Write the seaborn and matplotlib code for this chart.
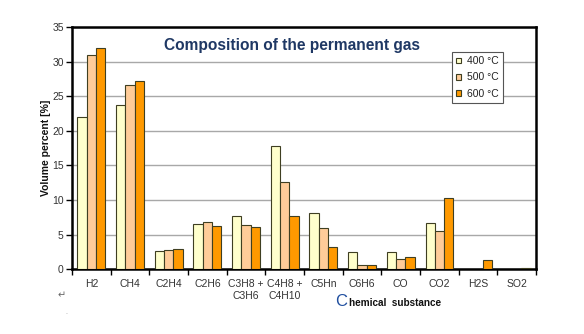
import matplotlib
matplotlib.use("Agg")
import matplotlib.pyplot as plt
import seaborn as sns
import pandas as pd

substances = ["H2", "CH4", "C2H4", "C2H6", "C3H8 +\nC3H6", "C4H8 +\nC4H10",
              "C5Hn", "C6H6", "CO", "CO2", "H2S", "SO2"]
temperatures = ["400 °C", "500 °C", "600 °C"]
vol_400 = [22.0, 23.8, 2.6, 6.5, 7.7, 17.8, 8.1, 2.45, 2.45, 6.7, 0.0, 0.0]
vol_500 = [30.9, 26.7, 2.8, 6.9, 6.4, 12.6, 5.9, 0.6, 1.5, 5.5, 0.0, 0.0]
vol_600 = [32.0, 27.2, 2.9, 6.3, 6.1, 7.75, 3.2, 0.67, 1.8, 10.25, 1.4, 0.2]
bar_colors = ["#FFFFCC", "#FFCC99", "#FF9900"]

rows = []
for temp, vals in zip(temperatures, [vol_400, vol_500, vol_600]):
    for sub, v in zip(substances, vals):
        rows.append({"substance": sub, "temperature": temp, "volume": v})
df = pd.DataFrame(rows)

sns.set_theme(style="white")
plt.rcParams["font.family"] = ["Liberation Sans", "DejaVu Sans"]

fig = plt.figure(figsize=(5.84, 3.34), dpi=100)
ax = fig.add_axes([0.1233, 0.1937, 0.7947, 0.7253])

sns.barplot(data=df, x="substance", y="volume", hue="temperature",
            hue_order=temperatures, order=substances, palette=bar_colors,
            saturation=1, width=0.72, gap=0, edgecolor="#3f3f22",
            linewidth=0.8, errorbar=None, ax=ax, zorder=3)

ax.set_ylim(0, 35)
ax.set_xlim(-0.5, len(substances) - 0.5)
ax.set_yticks(range(0, 36, 5))
ax.yaxis.grid(True, color="#a8a8a8", linewidth=1.0, zorder=0)
ax.set_axisbelow(True)

for side in ["top", "right", "left", "bottom"]:
    ax.spines[side].set_visible(True)
    ax.spines[side].set_color("black")
    ax.spines[side].set_linewidth(1.8)

ax.tick_params(axis="y", which="major", direction="out", length=4, width=1,
               color="black", labelsize=7.5, labelcolor="#333333", pad=2, left=True)
# category labels centred, separator ticks between groups
ax.set_xticks(range(len(substances)))
ax.set_xticklabels(substances, fontsize=7.5, color="#333333", linespacing=1.25)
ax.tick_params(axis="x", which="major", length=0, pad=7)
ax.set_xticks([i - 0.5 for i in range(len(substances) + 1)], minor=True)
ax.tick_params(axis="x", which="minor", direction="out", length=4, width=1,
               color="black", bottom=True)

ax.set_xlabel("")
ax.set_ylabel("Volume percent [%]", fontsize=7.5, fontweight="bold",
              color="#111111", labelpad=1)

ax.text(0.473, 0.925, "Composition of the permanent gas", transform=ax.transAxes,
        ha="center", va="center", fontsize=11.2, fontweight="bold",
        color="#1F3864")

fig.text(0.574, 0.084, "C", fontsize=12, color="#1F4E9F", ha="left",
         va="baseline")
fig.text(0.597, 0.084, "hemical  substance", fontsize=7.2, fontweight="bold",
         color="#111111", ha="left", va="baseline")
fig.text(0.105, 0.115, "\u21b5", fontsize=7, color="#666666",
         family=["DejaVu Sans"], ha="center", va="center")
fig.text(0.113, 0.063, ".", fontsize=5, color="#999999", ha="center",
         va="center")

leg = ax.legend(loc="upper left", bbox_to_anchor=(0.819, 0.897),
                borderaxespad=0, fontsize=7.5, frameon=True, fancybox=False,
                handlelength=0.5, handleheight=0.5, handletextpad=0.5,
                labelspacing=0.6, borderpad=0.4, title=None)
leg.get_frame().set_edgecolor("#555555")
leg.get_frame().set_linewidth(0.8)
leg.get_frame().set_alpha(1)
for t in leg.get_texts():
    t.set_color("#222222")

fig.savefig("out.png", dpi=100)
